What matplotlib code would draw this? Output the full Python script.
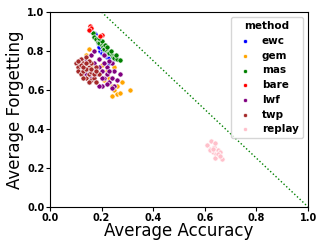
from matplotlib import pyplot as plt

methods = ["ewc", "gem", "mas", "bare", "lwf", "twp", "replay"]
colors = ["blue", "orange", "green", "red", "purple", "brown", "pink"]

ewc_x = [0.16, 0.17, 0.175, 0.18, 0.19, 0.195, 0.20, 0.21, 0.22, 0.23, 0.24, 0.17, 0.185, 0.20, 0.215, 0.25, 0.19, 0.23]
ewc_y = [0.905, 0.89, 0.885, 0.86, 0.83, 0.80, 0.79, 0.78, 0.77, 0.765, 0.75, 0.87, 0.84, 0.81, 0.79, 0.76, 0.82, 0.74]

gem_x = [0.12, 0.13, 0.14, 0.15, 0.16, 0.17, 0.18, 0.20, 0.22, 0.24, 0.25, 0.26, 0.27, 0.28, 0.31, 0.23, 0.25, 0.21, 0.19, 0.15, 0.24, 0.26, 0.22]
gem_y = [0.76, 0.74, 0.78, 0.81, 0.72, 0.69, 0.70, 0.73, 0.68, 0.62, 0.60, 0.58, 0.585, 0.64, 0.60, 0.66, 0.72, 0.65, 0.76, 0.66, 0.57, 0.62, 0.70]

mas_x = [0.165, 0.17, 0.18, 0.185, 0.19, 0.20, 0.205, 0.21, 0.22, 0.225, 0.23, 0.24, 0.245, 0.25, 0.26, 0.27, 0.20, 0.215, 0.235, 0.255, 0.19, 0.22]
mas_y = [0.89, 0.87, 0.86, 0.845, 0.84, 0.83, 0.82, 0.81, 0.80, 0.79, 0.79, 0.78, 0.77, 0.765, 0.76, 0.755, 0.85, 0.83, 0.80, 0.78, 0.865, 0.82]

bare_x = [0.155, 0.16, 0.20, 0.195, 0.15]
bare_y = [0.93, 0.92, 0.88, 0.875, 0.91]

lwf_x = [0.12, 0.13, 0.14, 0.15, 0.16, 0.17, 0.18, 0.19, 0.20, 0.21, 0.22, 0.23, 0.24, 0.25, 0.26, 0.27,
         0.14, 0.16, 0.18, 0.20, 0.22, 0.24, 0.17, 0.19, 0.21, 0.23, 0.25, 0.15, 0.18, 0.20, 0.22, 0.24, 0.19, 0.21, 0.23]
lwf_y = [0.74, 0.72, 0.76, 0.70, 0.78, 0.74, 0.68, 0.72, 0.70, 0.66, 0.68, 0.64, 0.66, 0.70, 0.65, 0.68,
         0.68, 0.66, 0.64, 0.62, 0.72, 0.74, 0.80, 0.76, 0.74, 0.70, 0.62, 0.64, 0.71, 0.66, 0.63, 0.61, 0.62, 0.78, 0.75]

twp_x = [0.10, 0.11, 0.12, 0.13, 0.14, 0.15, 0.16, 0.17, 0.18, 0.19, 0.11, 0.12, 0.13, 0.14, 0.15, 0.16, 0.17, 0.18,
         0.12, 0.13, 0.14, 0.15, 0.16, 0.11, 0.13, 0.15, 0.17, 0.14, 0.16, 0.18]
twp_y = [0.74, 0.72, 0.76, 0.74, 0.77, 0.72, 0.74, 0.70, 0.72, 0.68, 0.70, 0.68, 0.70, 0.66, 0.68, 0.65, 0.66, 0.64,
         0.73, 0.66, 0.71, 0.75, 0.69, 0.75, 0.72, 0.64, 0.68, 0.74, 0.71, 0.70]

replay_x = [0.61, 0.62, 0.625, 0.63, 0.635, 0.64, 0.645, 0.65, 0.655, 0.66, 0.665, 0.62, 0.63, 0.64, 0.65, 0.66]
replay_y = [0.32, 0.30, 0.34, 0.28, 0.31, 0.33, 0.27, 0.29, 0.26, 0.28, 0.245, 0.29, 0.30, 0.25, 0.27, 0.26]

xs = [ewc_x, gem_x, mas_x, bare_x, lwf_x, twp_x, replay_x]
ys = [ewc_y, gem_y, mas_y, bare_y, lwf_y, twp_y, replay_y]

fig = plt.figure(figsize=(3.18, 2.4), dpi=100)
ax = fig.add_axes([0.157, 0.1375, 0.812, 0.8125])

for m, c, x, y in zip(methods, colors, xs, ys):
    ax.scatter(x, y, s=14, color=c, edgecolors="white", linewidths=0.5, label=m)

ax.plot([0.2, 1.0], [1.0, 0.0], ":", color="green", linewidth=1)

ax.set_xlim(0, 1)
ax.set_ylim(0, 1)
ax.set_xticks([0, 0.2, 0.4, 0.6, 0.8, 1.0])
ax.set_yticks([0, 0.2, 0.4, 0.6, 0.8, 1.0])
for lab in ax.get_xticklabels() + ax.get_yticklabels():
    lab.set_fontweight("bold")
    lab.set_fontsize(7)
ax.tick_params(length=3, pad=1)
ax.set_xlabel("Average Accuracy", fontsize=12, labelpad=-0.5)
ax.set_ylabel("Average Forgetting", fontsize=12, labelpad=2)

leg = ax.legend(title="method", loc="upper right", title_fontsize=7.5,
                markerscale=0.8, handletextpad=0.6, labelspacing=0.45, borderpad=0.4,
                prop={"weight": "bold", "size": 7.5})
leg.get_title().set_fontweight("bold")

plt.savefig("out.png", dpi=100)
